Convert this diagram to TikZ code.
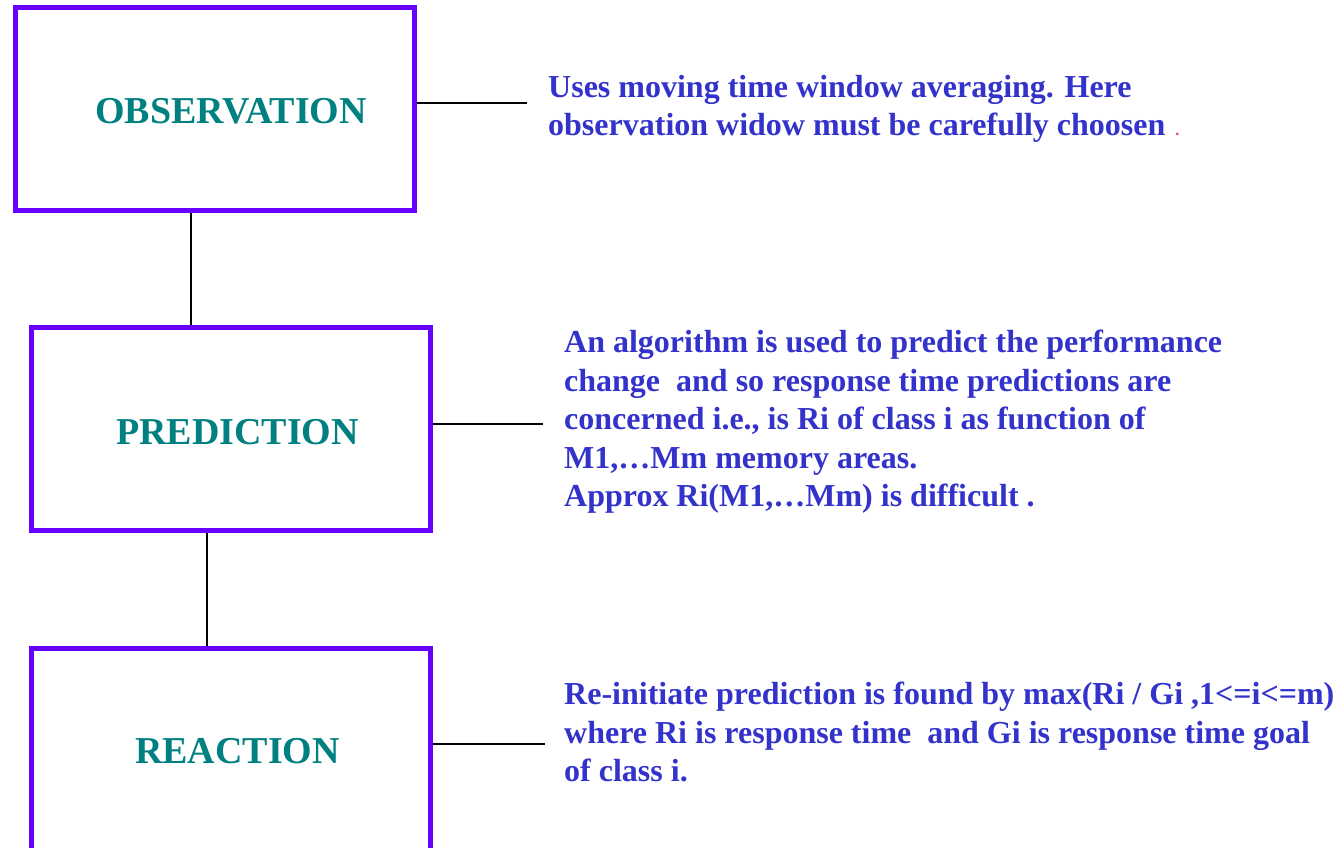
\documentclass[tikz,border=0pt]{standalone}
\usepackage{fontspec}
\setmainfont{Liberation Serif}
\definecolor{boxpurple}{HTML}{6600FF}
\definecolor{labelteal}{HTML}{008080}
\definecolor{descblue}{HTML}{3333CC}
\definecolor{dotred}{HTML}{F04078}
\begin{document}
\begin{tikzpicture}[x=1pt,y=-1pt,
  stagebox/.style={draw=boxpurple,line width=5pt,minimum width=399pt,minimum height=203pt,inner sep=0pt},
  stagelabel/.style={anchor=base,inner sep=0pt,text=labelteal,font=\fontsize{38}{40}\selectfont\bfseries},
  desc/.style={anchor=base west,inner sep=0pt,align=left,text=descblue,font=\fontsize{32}{38.5}\selectfont\bfseries},
  link/.style={draw=black,line width=1.5pt},
  vlink/.style={draw=black,line width=1.2pt}]
\clip (0,0) rectangle (1339,848);
\fill[white] (0,0) rectangle (1339,848);
% boxes
\node[stagebox] (obs) at (215,109) {};
\node[stagebox] (pred) at (231,429) {};
\node[stagebox] (react) at (231,749.5) {};
% labels
\node[stagelabel] (obsl) at (231,123.5) {OBSERVATION};
\node[stagelabel] (predl) at (237.5,444.5) {PREDICTION};
\node[stagelabel] (reactl) at (237.5,763.5) {REACTION};
% descriptions (anchored at the baseline of their last line)
\node[desc] (obsd) at (548,135.5) {Uses moving time window averaging. Here\\observation widow must be carefully choosen\hspace{10pt}{\color{dotred}\fontsize{16}{16}\selectfont .}};
\node[desc] (predd) at (564,506.5) {An algorithm is used to predict the performance\\change\ \ and so response time predictions are\\concerned i.e., is Ri of class i as function of\\M1,…Mm memory areas.\\Approx Ri(M1,…Mm) is difficult .};
\node[desc] (reactd) at (564,781.5) {Re-initiate prediction is found by max(Ri / Gi ,1<=i<=m)\\where Ri is response time\ \ and Gi is response time goal\\of class i.};
% connector end points
\coordinate (oend) at (527,103);
\coordinate (pend) at (543,424);
\coordinate (rend) at (545,744);
\coordinate (v1) at (191,0);
\coordinate (v2) at (207,0);
% connectors
\draw[link] (obs.east |- oend) -- (oend);
\draw[link] (pred.east |- pend) -- (pend);
\draw[link] (react.east |- rend) -- (rend);
\draw[vlink] (obs.south -| v1) -- (pred.north -| v1);
\draw[vlink] (pred.south -| v2) -- (react.north -| v2);
\end{tikzpicture}
\end{document}
